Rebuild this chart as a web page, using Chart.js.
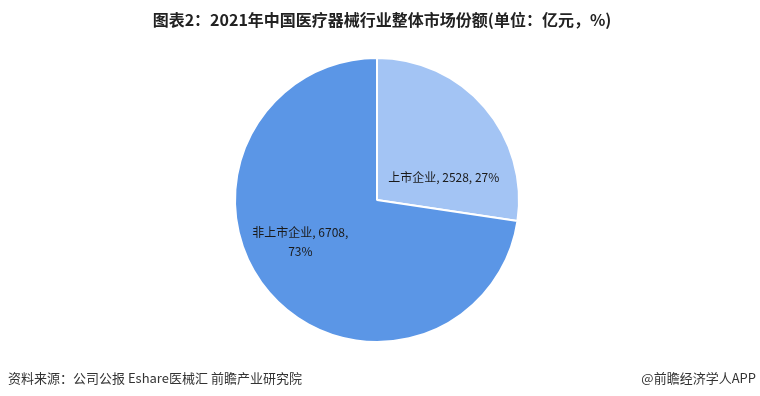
<!DOCTYPE html>
<html>
<head>
<meta charset="utf-8">
<script src="https://cdn.jsdelivr.net/npm/chart.js@4/dist/chart.umd.min.js"></script>
<style>
  html, body { margin: 0; padding: 0; background: #fff; }
  #wrap { width: 760px; height: 396px; position: relative; }
</style>
</head>
<body>
<div id="wrap"><canvas id="c" width="760" height="396"></canvas></div>
<script>
const categories = ["上市企业", "非上市企业"];
const values = [2528, 6708];
const percents = ["27%", "73%"];

const font = '"Noto Sans CJK SC", "Noto Sans", sans-serif';

// labels inside slices, placed relative to the pie center
const sliceLabels = {
    id: "sliceLabels",
    afterDatasetsDraw(chart) {
        const ctx = chart.ctx;
        const arcs = chart.getDatasetMeta(0).data;
        const { x, y, outerRadius } = arcs[0];
        ctx.save();
        ctx.fillStyle = "#1a1a1a";
        ctx.font = "12px " + font;
        ctx.textAlign = "center";
        ctx.textBaseline = "middle";
        ctx.fillText(categories[0] + ", " + values[0] + ", " + percents[0], x + outerRadius * 0.47, y - outerRadius * 0.16);
        ctx.fillText(categories[1] + ", " + values[1] + ",", x - outerRadius * 0.54, y + outerRadius * 0.225);
        ctx.fillText(percents[1], x - outerRadius * 0.54, y + outerRadius * 0.365);
        ctx.restore();
    }
};

const pageText = {
    id: "pageText",
    afterDraw(chart) {
        const ctx = chart.ctx;
        ctx.save();
        ctx.fillStyle = "#222";
        ctx.font = "bold 16px " + font;
        ctx.textAlign = "center";
        ctx.textBaseline = "middle";
        ctx.fillText("图表2：2021年中国医疗器械行业整体市场份额(单位：亿元，%)", 382, 20);
        ctx.font = "13px " + font;
        ctx.fillStyle = "#333";
        ctx.textAlign = "left";
        ctx.fillText("资料来源：公司公报 Eshare医械汇 前瞻产业研究院", 8, 378);
        ctx.textAlign = "right";
        ctx.fillText("@前瞻经济学人APP", 756, 378);
        ctx.restore();
    }
};

new Chart(document.getElementById("c"), {
    type: "pie",
    data: {
        labels: categories,
        datasets: [{
            data: values,
            backgroundColor: ["#a3c4f4", "#5b96e6"],
            borderColor: "#ffffff",
            borderWidth: 2
        }]
    },
    options: {
        responsive: false,
        animation: false,
        layout: { padding: { top: 57, bottom: 53, left: 234, right: 240 } },
        plugins: {
            legend: { display: false },
            tooltip: { enabled: false }
        }
    },
    plugins: [sliceLabels, pageText]
});
</script>
</body>
</html>
